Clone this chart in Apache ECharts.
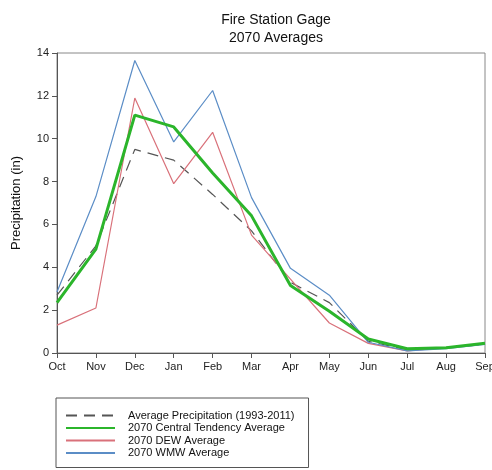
<!DOCTYPE html>
<html>
<head>
<meta charset="utf-8">
<script src="https://cdn.jsdelivr.net/npm/echarts@6/dist/echarts.min.js"></script>
<style>
  html, body { margin: 0; padding: 0; background: #fff; }
  #chart { width: 492px; height: 470px; }
</style>
</head>
<body>
<div id="chart"></div>
<script>
const months = ['Oct', 'Nov', 'Dec', 'Jan', 'Feb', 'Mar', 'Apr', 'May', 'Jun', 'Jul', 'Aug', 'Sep'];
const avgPrecip = [2.7, 5.0, 9.5, 9.0, 7.4, 5.7, 3.3, 2.35, 0.55, 0.15, 0.25, 0.4];
const central = [2.35, 4.85, 11.1, 10.55, 8.4, 6.4, 3.15, 1.95, 0.65, 0.2, 0.25, 0.45];
const dew = [1.3, 2.1, 11.9, 7.9, 10.3, 5.5, 3.45, 1.4, 0.45, 0.1, 0.25, 0.45];
const wmw = [2.85, 7.3, 13.65, 9.85, 12.25, 7.25, 3.95, 2.7, 0.5, 0.1, 0.2, 0.4];
const yTicks = [0, 2, 4, 6, 8, 10, 12, 14];

const font = 'Liberation Sans, Arial, sans-serif';
const chart = echarts.init(document.getElementById('chart'));

chart.setOption({
  animation: false,
  title: {
    text: 'Fire Station Gage\n2070 Averages',
    left: 271,
    textAlign: 'center',
    top: 6,
    textStyle: { fontFamily: font, fontSize: 14, fontWeight: 'normal', color: '#111', lineHeight: 18 },
  },
  grid: {
    left: 57,
    right: 7,
    top: 53,
    bottom: 117,
    outerBoundsMode: 'none',
    containLabel: false,
    show: true,
    borderColor: '#888',
    borderWidth: 1,
  },
  legend: {
    orient: 'vertical',
    left: 56,
    top: 398,
    height: 60,
    padding: [12, 14, 9, 9],
    itemGap: 1.5,
    itemWidth: 49,
    itemHeight: 11,
    borderColor: '#555',
    borderWidth: 1,
    borderRadius: 0,
    itemStyle: { opacity: 0 },
    textStyle: { fontFamily: font, fontSize: 11, color: '#111', padding: [0, 0, 0, 8] },
    data: ['Average Precipitation (1993-2011)', '2070 Central Tendency Average', '2070 DEW Average', '2070 WMW Average'],
  },
  xAxis: {
    type: 'category',
    data: months,
    boundaryGap: false,
    axisLine: { lineStyle: { color: '#555' } },
    axisTick: { alignWithLabel: true, length: 5, lineStyle: { color: '#555' } },
    axisLabel: { fontFamily: font, fontSize: 11, color: '#222', margin: 8 },
    splitLine: { show: false },
  },
  yAxis: {
    type: 'value',
    min: 0,
    max: 14,
    interval: 2,
    name: 'Precipitation (in)',
    nameLocation: 'middle',
    nameGap: 34,
    nameTextStyle: { fontFamily: font, fontSize: 13, color: '#111' },
    axisLine: { show: true, lineStyle: { color: '#555' } },
    axisTick: { show: true, length: 5, lineStyle: { color: '#555' } },
    axisLabel: {
      fontFamily: font, fontSize: 11, color: '#222', margin: 8,
      formatter: v => (yTicks.includes(v) ? String(v) : ''),
    },
    splitLine: { show: false },
  },
  series: [
    {
      name: 'Average Precipitation (1993-2011)',
      type: 'line',
      data: avgPrecip,
      symbol: 'none',
      z: 2,
      lineStyle: { color: '#555', width: 1.2, type: [11, 7] },
      itemStyle: { color: '#555' },
    },
    {
      name: '2070 Central Tendency Average',
      type: 'line',
      data: central,
      symbol: 'none',
      z: 4,
      lineStyle: { color: '#2bb52b', width: 3 },
      itemStyle: { color: '#2bb52b' },
    },
    {
      name: '2070 DEW Average',
      type: 'line',
      data: dew,
      symbol: 'none',
      z: 3,
      lineStyle: { color: '#d9717a', width: 1.2 },
      itemStyle: { color: '#d9717a' },
    },
    {
      name: '2070 WMW Average',
      type: 'line',
      data: wmw,
      symbol: 'none',
      z: 3,
      lineStyle: { color: '#5b8dc6', width: 1.2 },
      itemStyle: { color: '#5b8dc6' },
    },
  ],
});
</script>
</body>
</html>
